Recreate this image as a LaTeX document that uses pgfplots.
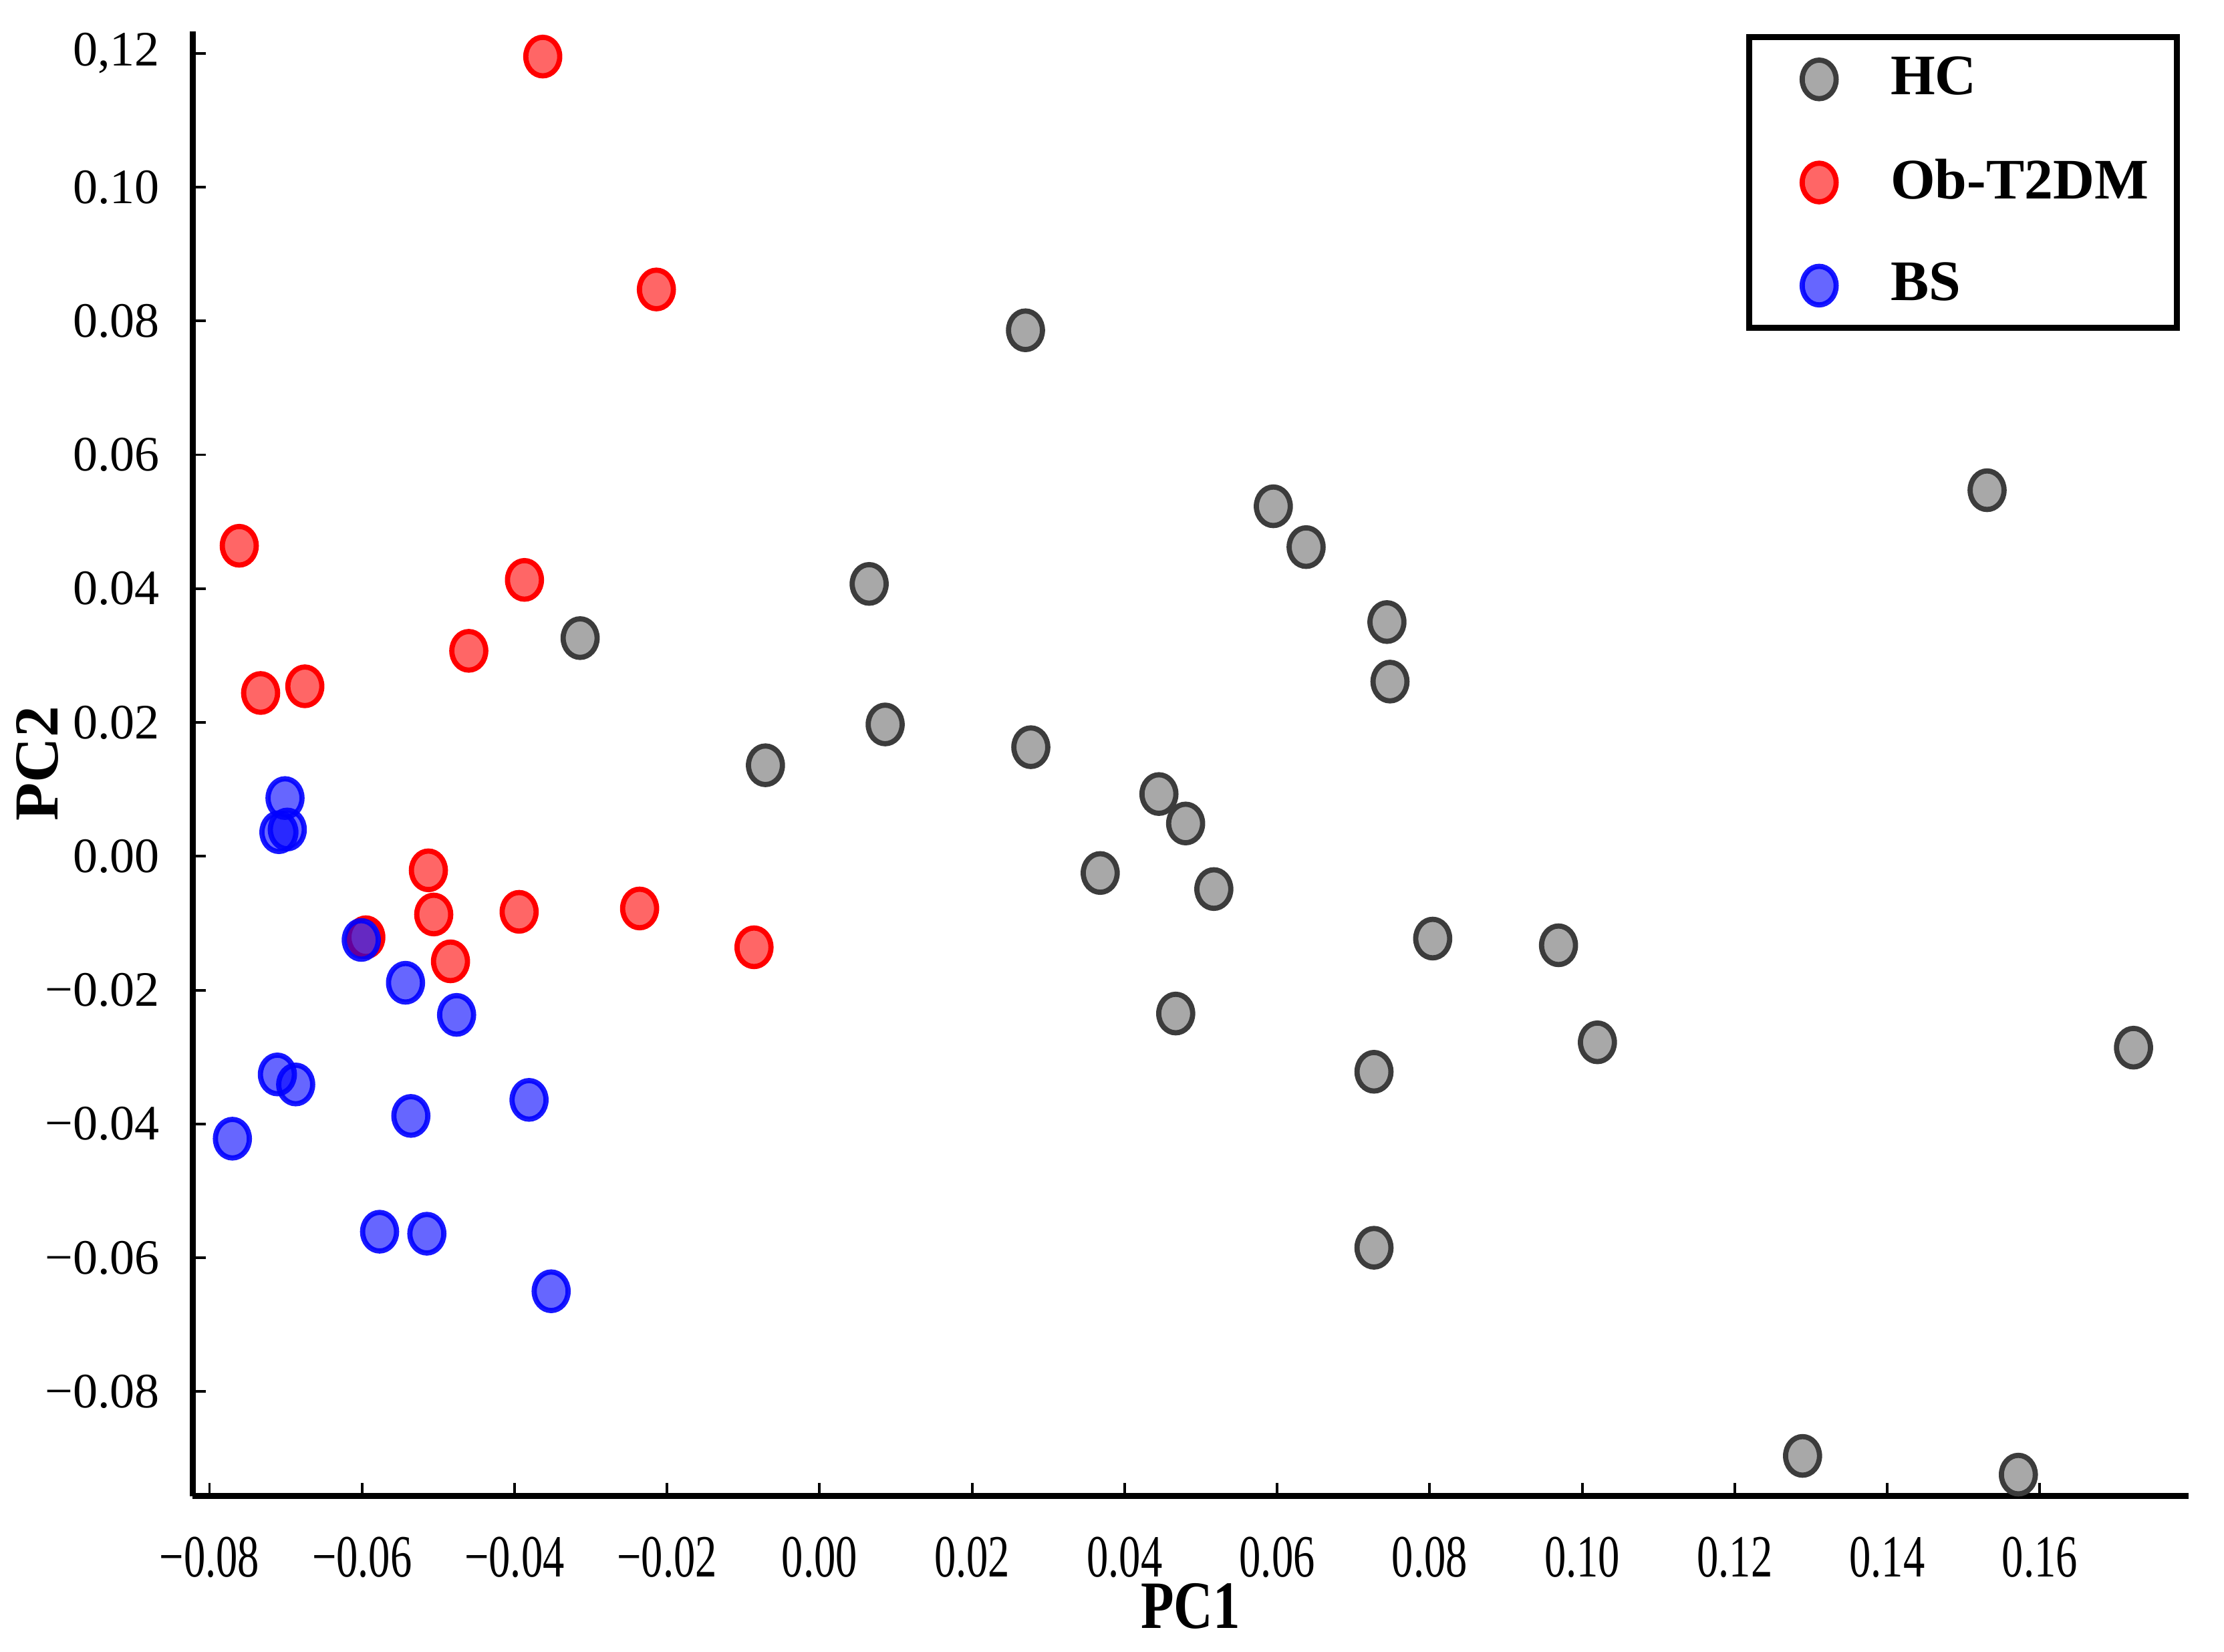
\documentclass[border=0pt]{standalone}
\usepackage{pgfplots}
\pgfplotsset{compat=1.18}
\usepackage{fontspec}
\setmainfont{Liberation Serif}

\definecolor{hcfill}{RGB}{168,168,168}
\definecolor{hcdraw}{RGB}{60,60,60}

\pgfplotstableread{
x y
0.0270 0.0786
0.1531 0.0547
0.0595 0.0523
0.0638 0.0462
0.0065 0.0407
-0.0314 0.0326
0.0744 0.0350
0.0748 0.0261
0.0086 0.0197
-0.0071 0.0136
0.0277 0.0163
0.0445 0.0093
0.0480 0.0049
0.0368 -0.0025
0.0517 -0.0049
0.0804 -0.0123
0.0969 -0.0133
0.0467 -0.0235
0.1020 -0.0278
0.1723 -0.0286
0.0727 -0.0322
0.0727 -0.0585
0.1289 -0.0896
0.1572 -0.0924
}\hc

\pgfplotstableread{
x y
-0.0363 0.1195
-0.0214 0.0847
-0.0761 0.0464
-0.0387 0.0413
-0.0460 0.0307
-0.0733 0.0244
-0.0675 0.0254
-0.0513 -0.0021
-0.0506 -0.0087
-0.0394 -0.0083
-0.0236 -0.0078
-0.0086 -0.0136
-0.0484 -0.0157
-0.0595 -0.0121
}\obt

\pgfplotstableread{
x y
-0.0701 0.0087
-0.0709 0.0036
-0.0698 0.0040
-0.0601 -0.0125
-0.0543 -0.0189
-0.0476 -0.0237
-0.0711 -0.0326
-0.0687 -0.0341
-0.0770 -0.0422
-0.0381 -0.0364
-0.0536 -0.0388
-0.0577 -0.0561
-0.0515 -0.0564
-0.0352 -0.0650
}\bs

\begin{document}
\begin{tikzpicture}
\path[use as bounding box] (-1.30,-1.05) rectangle (13.70,10.09);
\begin{axis}[
  scale only axis,
  width=13.46cm, height=9.88cm,
  xmin=-0.0822, xmax=0.1795,
  ymin=-0.0956, ymax=0.1233,
  axis lines=left,
  axis line style={-, line width=1.1pt},
  tick align=inside,
  major tick length=0.09cm,
  tick style={black, line width=0.5pt},
  xtick={-0.08,-0.06,-0.04,-0.02,0,0.02,0.04,0.06,0.08,0.10,0.12,0.14,0.16},
  xticklabels={−0.08,−0.06,−0.04,−0.02,0.00,0.02,0.04,0.06,0.08,0.10,0.12,0.14,0.16},
  ytick={-0.08,-0.06,-0.04,-0.02,0,0.02,0.04,0.06,0.08,0.10,0.12},
  yticklabels={−0.08,−0.06,−0.04,−0.02,0.00,0.02,0.04,0.06,0.08,0.10,{0,12}},
  x tick label style={font=\fontsize{11.5}{12}\selectfont, xscale=0.72, yshift=-0.15cm},
  y tick label style={font=\fontsize{9.5}{11}\selectfont, xshift=-0.1cm},
  xlabel={\textbf{PC1}},
  ylabel={\textbf{PC2}},
  xlabel style={font=\fontsize{13}{14}\selectfont, xscale=0.8, yshift=0.2cm},
  ylabel style={font=\fontsize{12}{14}\selectfont, yshift=-0.33cm},
  clip=false,
  legend style={
    at={(0.9957,0.998)}, anchor=north east,
    draw=black, line width=1.2pt,
    font=\fontsize{11}{13}\bfseries\selectfont,
    row sep=0.24cm, inner xsep=0.12cm, inner ysep=0.06cm,
    legend cell align=left,
  },
  legend image code/.code={\draw[#1,line width=1pt] plot coordinates {(0.33cm,0cm)}; \path (0,0) (0.72cm,0);},
]
\addplot[only marks, mark=*, mark size=3.7pt,
  mark options={xscale=0.88, fill=hcfill, draw=hcdraw, line width=1pt}] table {\hc};
\addlegendentry{HC}
\addplot[only marks, mark=*, mark size=3.7pt,
  mark options={xscale=0.88, fill=red, fill opacity=0.6, draw=red, line width=1pt}] table {\obt};
\addlegendentry{Ob-T2DM}
\addplot[only marks, mark=*, mark size=3.7pt,
  mark options={xscale=0.88, fill=blue, fill opacity=0.6, draw=blue, draw opacity=0.9, line width=1pt}] table {\bs};
\addlegendentry{BS\rule[-0.1cm]{0pt}{0.1cm}}
\end{axis}
\end{tikzpicture}
\end{document}
